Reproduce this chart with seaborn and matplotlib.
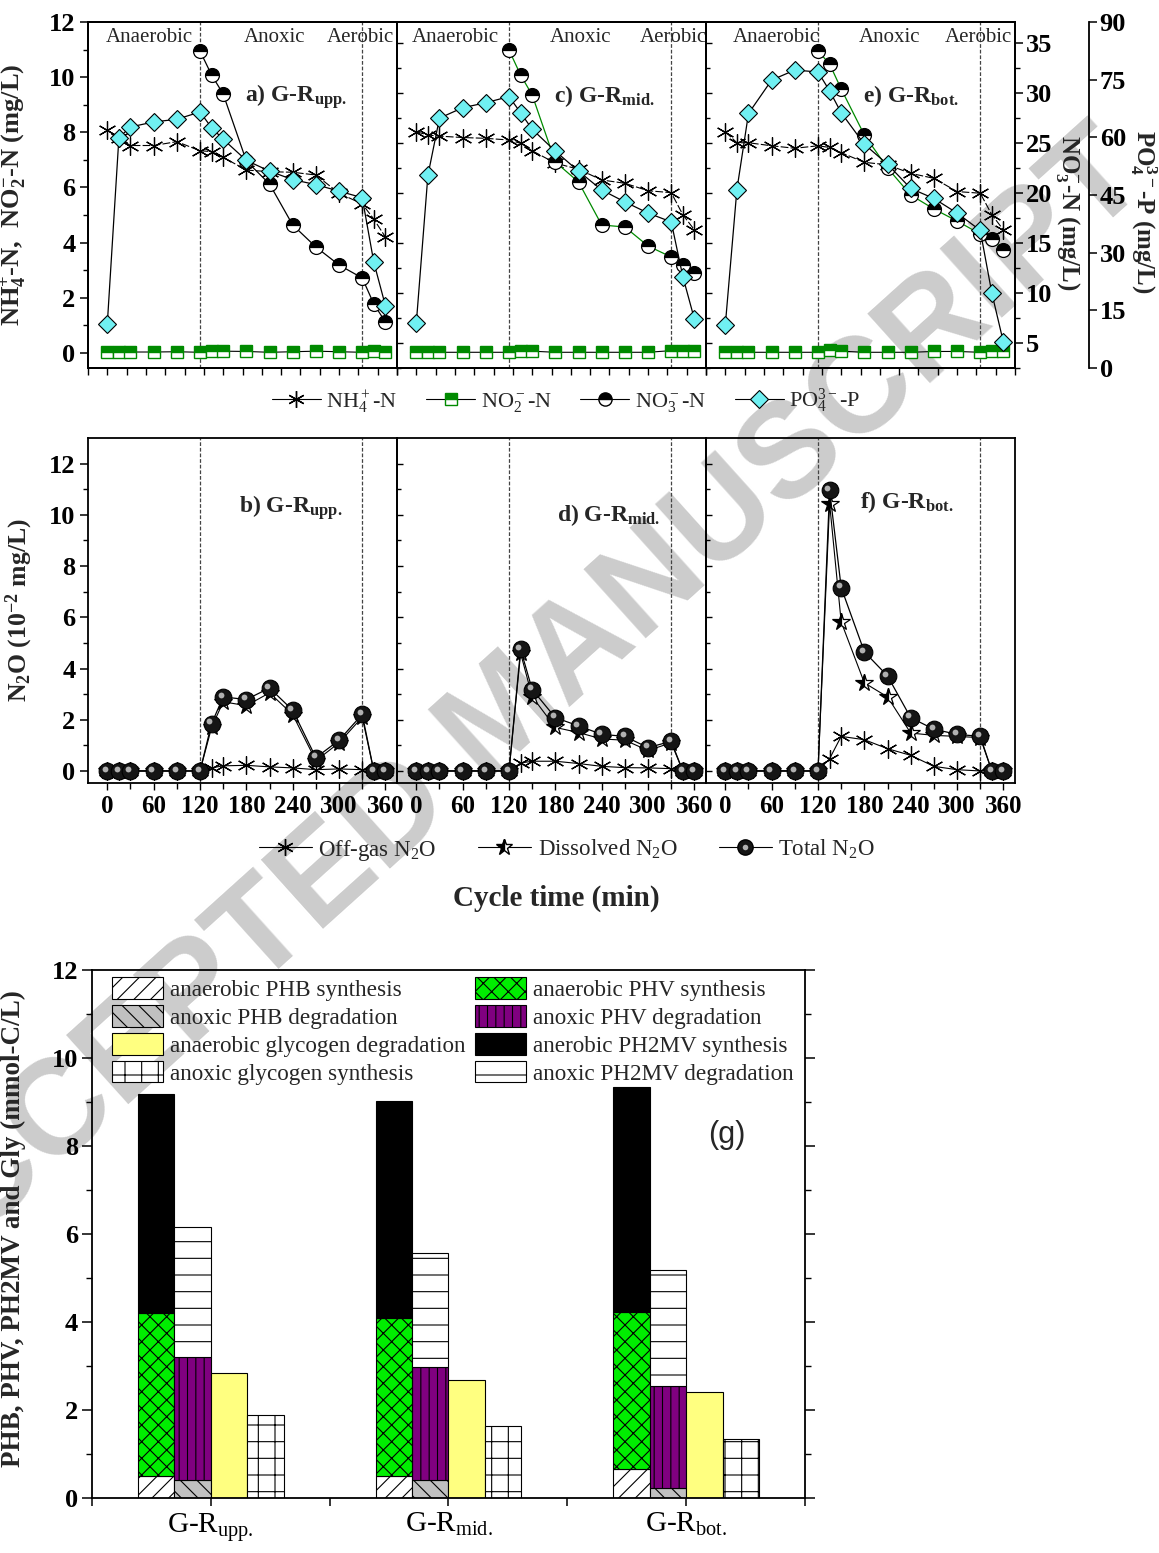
import numpy as np
import pandas as pd
import matplotlib
matplotlib.use("Agg")
import matplotlib.pyplot as plt
import matplotlib.transforms as mtransforms
from matplotlib.lines import Line2D
from matplotlib.patches import Patch
from matplotlib.legend_handler import HandlerTuple
import seaborn as sns

# ---------------- data ----------------
time = [0, 15, 30, 60, 90, 120, 135, 150, 180, 210, 240, 270, 300, 330, 345, 360]
time_anox = [120, 135, 150, 180, 210, 240, 270, 300, 330, 345, 360]
reactors = ["upp.", "mid.", "bot."]
top_letters = ["a)", "c)", "e)"]
mid_letters = ["b)", "d)", "f)"]

nh4_upp = [8.08, 7.78, 7.52, 7.52, 7.66, 7.33, 7.30, 7.09, 6.63, 6.57, 6.55, 6.45, 5.79, 5.40, 4.85, 4.20]
nh4_mid = [8.02, 7.90, 7.86, 7.81, 7.78, 7.72, 7.60, 7.33, 6.88, 6.66, 6.27, 6.15, 5.88, 5.81, 5.01, 4.46]
nh4_bot = [8.02, 7.62, 7.62, 7.51, 7.42, 7.51, 7.45, 7.26, 6.91, 6.82, 6.51, 6.33, 5.85, 5.79, 5.01, 4.46]

no2_upp = [0.03, 0.03, 0.03, 0.03, 0.04, 0.02, 0.08, 0.06, 0.05, 0.02, 0.04, 0.06, 0.04, 0.02, 0.05, 0.03]
no2_mid = [0.02, 0.02, 0.02, 0.02, 0.02, 0.02, 0.08, 0.06, 0.02, 0.02, 0.02, 0.02, 0.02, 0.08, 0.06, 0.08]
no2_bot = [0.02, 0.02, 0.02, 0.02, 0.02, 0.02, 0.10, 0.06, 0.02, 0.02, 0.02, 0.05, 0.05, 0.02, 0.05, 0.05]

no3_upp = [34.2, 31.8, 29.9, 23.2, 20.9, 16.8, 14.6, 12.8, 11.5, 8.9, 7.1]
no3_mid = [34.3, 31.8, 29.8, 23.1, 21.1, 16.8, 16.6, 14.7, 13.6, 12.8, 12.0]
no3_bot = [34.2, 32.9, 30.4, 25.8, 22.5, 19.8, 18.4, 17.2, 15.9, 15.4, 14.3]

po4_upp = [11.5, 59.9, 62.7, 64.0, 64.7, 66.6, 62.5, 59.5, 54.0, 51.2, 49.0, 47.7, 46.0, 44.3, 27.5, 16.2]
po4_mid = [11.7, 50.1, 65.0, 67.7, 69.0, 70.6, 66.4, 62.1, 56.4, 51.2, 46.3, 43.2, 40.3, 38.0, 23.8, 12.7]
po4_bot = [11.2, 46.4, 66.2, 74.9, 77.5, 77.0, 72.1, 66.4, 58.2, 53.0, 46.7, 44.1, 40.3, 35.8, 19.5, 6.7]

offgas_upp = [0, 0, 0, 0, 0, 0, 0.12, 0.20, 0.22, 0.16, 0.12, 0.05, 0.08, 0.05, 0, 0]
offgas_mid = [0, 0, 0, 0, 0, 0, 0.31, 0.38, 0.38, 0.29, 0.18, 0.13, 0.12, 0.09, 0, 0]
offgas_bot = [0, 0, 0, 0, 0, 0, 0.48, 1.35, 1.22, 0.87, 0.61, 0.18, 0.05, 0.0, 0, 0]

dissolved_upp = [0, 0, 0, 0, 0, 0, 1.70, 2.70, 2.55, 3.05, 2.20, 0.40, 1.10, 2.10, 0, 0]
dissolved_mid = [0, 0, 0, 0, 0, 0, 4.60, 2.90, 1.70, 1.50, 1.25, 1.20, 0.80, 1.10, 0, 0]
dissolved_bot = [0, 0, 0, 0, 0, 0, 10.44, 5.82, 3.44, 2.89, 1.48, 1.39, 1.35, 1.30, 0, 0]

total_upp = [0, 0, 0, 0, 0, 0, 1.85, 2.89, 2.79, 3.24, 2.37, 0.52, 1.20, 2.21, 0, 0]
total_mid = [0, 0, 0, 0, 0, 0, 4.75, 3.18, 2.08, 1.76, 1.43, 1.35, 0.91, 1.16, 0, 0]
total_bot = [0, 0, 0, 0, 0, 0, 10.96, 7.16, 4.65, 3.71, 2.08, 1.63, 1.43, 1.35, 0, 0]

# bar chart (segment values, mmol-C/L)
bar_groups = ["G-R$_{\\mathregular{upp.}}$", "G-R$_{\\mathregular{mid.}}$", "G-R$_{\\mathregular{bot.}}$"]
phb_syn = [0.49, 0.50, 0.65]
phv_syn = [3.71, 3.60, 3.57]
ph2mv_syn = [4.99, 4.92, 5.13]
phb_deg = [0.41, 0.40, 0.22]
phv_deg = [2.80, 2.58, 2.32]
ph2mv_deg = [2.94, 2.58, 2.64]
gly_deg = [2.85, 2.69, 2.41]
gly_syn = [1.89, 1.63, 1.33]

# ---------------- style ----------------
sns.set_theme(style="ticks")
plt.rcParams["font.family"] = ["Liberation Serif", "DejaVu Serif"]
plt.rcParams["mathtext.fontset"] = "custom"
plt.rcParams["mathtext.rm"] = "Liberation Serif"
plt.rcParams["mathtext.it"] = "Liberation Serif:italic"
plt.rcParams["mathtext.bf"] = "Liberation Serif:bold"
plt.rcParams["axes.linewidth"] = 1.3
plt.rcParams["axes.edgecolor"] = "black"
plt.rcParams["hatch.linewidth"] = 0.8
plt.rcParams["xtick.color"] = "black"
plt.rcParams["ytick.color"] = "black"

W, H = 1159, 1553
fig = plt.figure(figsize=(W / 100, H / 100), dpi=100)
fig.patch.set_facecolor("white")


def fr(x0, x1, ytop, ybot):
    return [x0 / W, 1 - ybot / H, (x1 - x0) / W, (ybot - ytop) / H]


xs = [88, 397, 706, 1015]
CYAN = "#70f0f2"
GREEN = "#008a00"
VL = dict(color="#444444", lw=0.9, ls=(0, (3, 1.5)), zorder=1)


def bold_ticks(ax, which="both"):
    if which in ("both", "x"):
        for t in ax.get_xticklabels():
            t.set_fontweight("bold")
    if which in ("both", "y"):
        for t in ax.get_yticklabels():
            t.set_fontweight("bold")


# watermark (behind axes)
fig.text(505 / W, 1 - 718 / H, "ACCEPTED MANUSCRIPT", rotation=42, fontsize=97,
         color="#cccccc", family="Liberation Sans", weight="bold",
         ha="center", va="center", zorder=-5, rotation_mode="anchor")

nh4_all = [nh4_upp, nh4_mid, nh4_bot]
no2_all = [no2_upp, no2_mid, no2_bot]
no3_all = [no3_upp, no3_mid, no3_bot]
po4_all = [po4_upp, po4_mid, po4_bot]
phase_x = [[54, 217, 328], [51, 213, 333], [66, 213, 328]]
no3_line_colors = ["black", GREEN, GREEN]

# ---------------- top panels ----------------
for i in range(3):
    ax = fig.add_axes(fr(xs[i], xs[i + 1], 22, 368))
    ax.set_facecolor("none")
    tw = ax.twinx()
    tp = ax.twinx()
    for a in (tw, tp):
        a.set_facecolor("none")

    sns.lineplot(x=time, y=nh4_all[i], ax=ax, color="black", lw=0.8, ls=(0, (7, 2)),
                 marker=(6, 2, 0), markersize=13, markeredgecolor="black",
                 markeredgewidth=0.9, estimator=None, errorbar=None, zorder=3)
    sns.lineplot(x=time, y=no2_all[i], ax=ax, color="black", lw=0.8,
                 marker="s", markersize=8.5, fillstyle="top", markerfacecolor=GREEN,
                 markerfacecoloralt="white", markeredgecolor=GREEN, markeredgewidth=1.0,
                 estimator=None, errorbar=None, zorder=3)
    sns.lineplot(x=time_anox, y=no3_all[i], ax=tw, color=no3_line_colors[i], lw=0.9,
                 marker="o", markersize=10, fillstyle="top", markerfacecolor="black",
                 markerfacecoloralt="white", markeredgecolor="black", markeredgewidth=0.9,
                 estimator=None, errorbar=None, zorder=3)
    sns.lineplot(x=time, y=po4_all[i], ax=tp, color="black", lw=0.9,
                 marker="D", markersize=9.5, markerfacecolor=CYAN,
                 markeredgecolor="black", markeredgewidth=0.8,
                 estimator=None, errorbar=None, zorder=3)

    for a in (ax, tw, tp):
        a.set_xlabel("")
        a.set_ylabel("")
        a.set_xlim(-25, 375)
    ax.set_ylim(-0.55, 12)
    tw.set_ylim(2.5, 37.1)
    tp.set_ylim(0, 90)
    ax.axvline(120, **VL)
    ax.axvline(330, **VL)

    ax.set_xticks(np.arange(-25, 376, 25))
    ax.tick_params(axis="x", direction="out", length=5, width=1, labelbottom=False)
    ax.set_yticks(np.arange(0, 13, 2))
    ax.set_yticks(np.arange(1, 12, 2), minor=True)

    tw.set_yticks(np.arange(5, 36, 5))
    tw.set_yticks(np.arange(2.5, 37.1, 5), minor=True)
    if i == 0:
        ax.tick_params(axis="y", which="major", direction="out", length=6, width=1.1,
                       labelsize=19, pad=3)
        ax.tick_params(axis="y", which="minor", direction="out", length=3.5, width=1)
        bold_ticks(ax, "y")
        ax.set_ylabel("NH$_\\mathbf{4}^\\mathbf{+}$-N,  NO$_\\mathbf{2}^\\mathbf{-}$-N (mg/L)",
                      fontsize=19, fontweight="bold")
        ax.yaxis.set_label_coords((28 - 88) / 309, 0.5)
    else:
        ax.tick_params(axis="y", which="both", length=0, labelleft=False)

    if i == 2:
        tw.tick_params(axis="y", which="major", direction="out", length=6, width=1.1,
                       labelsize=19, pad=2)
        tw.tick_params(axis="y", which="minor", direction="out", length=3.5, width=1)
        bold_ticks(tw, "y")
        tp.spines["right"].set_position(("outward", 53))
        tp.set_yticks(np.arange(0, 91, 15))
        tp.tick_params(axis="y", which="major", direction="out", length=6, width=1.1,
                       labelsize=19, pad=2)
        bold_ticks(tp, "y")
        ax.text(1.17, 0.45, "NO$_\\mathbf{3}^\\mathbf{-}$-N (mg/L)", transform=ax.transAxes,
                rotation=270, fontsize=18, fontweight="bold", ha="center", va="center")
        ax.text(1.415, 0.45, "PO$_\\mathbf{4}^\\mathbf{3-}$-P (mg/L)", transform=ax.transAxes,
                rotation=270, fontsize=18, fontweight="bold", ha="center", va="center")
    else:
        tw.tick_params(axis="y", which="major", direction="out", length=4, width=1,
                       labelright=False)
        tw.tick_params(axis="y", which="minor", direction="out", length=3, width=1)
        tp.tick_params(axis="y", which="both", length=0, labelright=False)
        tp.spines["right"].set_visible(False)

    for label, xp in zip(["Anaerobic", "Anoxic", "Aerobic"], phase_x[i]):
        ax.text(xp, 11.42, label, fontsize=15, ha="center", va="center")
    ax.text(178, 9.3, top_letters[i] + " G-R$_\\mathbf{" + reactors[i] + "}$",
            fontsize=17, fontweight="bold", ha="left", va="center")

# legend for top row
lg1_handles = [
    Line2D([], [], color="black", lw=0.8, marker=(6, 2, 0), markersize=12, markeredgecolor="black"),
    Line2D([], [], color="black", lw=0.8, marker="s", markersize=8, fillstyle="top",
           markerfacecolor=GREEN, markerfacecoloralt="white", markeredgecolor=GREEN),
    Line2D([], [], color="black", lw=0.8, marker="o", markersize=9.5, fillstyle="top",
           markerfacecolor="black", markerfacecoloralt="white", markeredgecolor="black"),
    Line2D([], [], color="black", lw=0.8, marker="D", markersize=9, markerfacecolor=CYAN,
           markeredgecolor="black", markeredgewidth=0.8),
]
fig.legend(lg1_handles, ["NH$_4^+$-N", "NO$_2^-$-N", "NO$_3^-$-N", "PO$_4^{3-}$-P"],
           loc="center", bbox_to_anchor=(566 / W, 1 - 401 / H), ncol=4, frameon=False,
           fontsize=16, handlelength=2.2, columnspacing=1.3, handletextpad=0.25)

# ---------------- middle panels ----------------
offgas_all = [offgas_upp, offgas_mid, offgas_bot]
dissolved_all = [dissolved_upp, dissolved_mid, dissolved_bot]
total_all = [total_upp, total_mid, total_bot]
mid_label_pos = [(170, 10.3), (182, 10.0), (174, 10.5)]

for i in range(3):
    ax = fig.add_axes(fr(xs[i], xs[i + 1], 438, 783))
    ax.set_facecolor("none")
    sns.lineplot(x=time, y=offgas_all[i], ax=ax, color="black", lw=0.8,
                 marker=(6, 2, 0), markersize=13, markeredgecolor="black", markeredgewidth=0.9,
                 estimator=None, errorbar=None, zorder=3)
    sns.lineplot(x=time, y=dissolved_all[i], ax=ax, color="black", lw=0.8,
                 marker="*", markersize=13, fillstyle="left", markerfacecolor="black",
                 markerfacecoloralt="white", markeredgecolor="black", markeredgewidth=0.9,
                 estimator=None, errorbar=None, zorder=4)
    sns.lineplot(x=time, y=total_all[i], ax=ax, color="black", lw=0.9,
                 marker="o", markersize=12, markerfacecolor="#151515",
                 markeredgecolor="black", markeredgewidth=0.8,
                 estimator=None, errorbar=None, zorder=5)
    shift = mtransforms.ScaledTranslation(-1.6 / 72, 1.6 / 72, fig.dpi_scale_trans)
    ax.plot(time, total_all[i], ls="none", marker="o", markersize=4.2, color="#b0b0b0",
            markeredgewidth=0, transform=ax.transData + shift, zorder=6)
    ax.set_xlabel("")
    ax.set_ylabel("")
    ax.set_xlim(-25, 375)
    ax.set_ylim(-0.47, 13)
    ax.axvline(120, **VL)
    ax.axvline(330, **VL)
    ax.set_xticks(np.arange(0, 361, 60))
    ax.set_xticks(np.arange(30, 361, 60), minor=True)
    ax.tick_params(axis="x", which="major", direction="out", length=5, width=1,
                   labelsize=18, pad=4)
    ax.tick_params(axis="x", which="minor", direction="out", length=4, width=1)
    bold_ticks(ax, "x")
    ax.set_yticks(np.arange(0, 13, 2))
    ax.set_yticks(np.arange(1, 13, 2), minor=True)
    if i == 0:
        ax.tick_params(axis="y", which="major", direction="out", length=6, width=1.1,
                       labelsize=19, pad=3)
        ax.tick_params(axis="y", which="minor", direction="out", length=3.5, width=1)
        bold_ticks(ax, "y")
        ax.set_ylabel("N$_\\mathbf{2}$O (10$^\\mathbf{-2}$ mg/L)", fontsize=18.5, fontweight="bold")
        ax.yaxis.set_label_coords((35 - 88) / 309, 0.5)
    else:
        ax.tick_params(axis="y", which="major", direction="in", length=4, width=1, labelleft=False)
        ax.tick_params(axis="y", which="minor", direction="in", length=3, width=1)
    lx, ly = mid_label_pos[i]
    ax.text(lx, ly, mid_letters[i] + " G-R$_\\mathbf{" + reactors[i] + "}$",
            fontsize=17, fontweight="bold", ha="left", va="center")

lg2_handles = [
    Line2D([], [], color="black", lw=0.8, marker=(6, 2, 0), markersize=12, markeredgecolor="black"),
    Line2D([], [], color="black", lw=0.8, marker="*", markersize=12, fillstyle="left",
           markerfacecolor="black", markerfacecoloralt="white", markeredgecolor="black"),
    (Line2D([], [], color="black", lw=0.8, marker="o", markersize=11, markerfacecolor="#151515",
            markeredgecolor="black"),
     Line2D([], [], ls="none", marker="o", markersize=4, color="#b0b0b0", markeredgewidth=0)),
]
fig.legend(lg2_handles, ["Off-gas N$_2$O", "Dissolved N$_2$O", "Total N$_2$O"],
           handler_map={tuple: HandlerTuple(ndivide=1)},
           loc="center", bbox_to_anchor=(567 / W, 1 - 850 / H), ncol=3, frameon=False,
           fontsize=16.5, handlelength=2.3, columnspacing=1.8, handletextpad=0.3)

fig.text(556 / W, 1 - 898 / H, "Cycle time (min)", fontsize=21, fontweight="bold",
         ha="center", va="center")

# ---------------- bar chart ----------------
axg = fig.add_axes(fr(92, 805, 970, 1498))
axg.set_facecolor("none")
xpos = np.arange(1, 4)
bw = 0.153
off = [-1.5 * bw, -0.5 * bw, 0.5 * bw, 1.5 * bw]
ekw = dict(edgecolor="black", linewidth=0.8)
b1 = axg.bar(xpos + off[0], phb_syn, bw, color="white", hatch="//", **ekw)
b5 = axg.bar(xpos + off[0], phv_syn, bw, bottom=phb_syn, color="#00ee00", hatch="xx", **ekw)
b7 = axg.bar(xpos + off[0], ph2mv_syn, bw, bottom=np.add(phb_syn, phv_syn), color="black", **ekw)
b2 = axg.bar(xpos + off[1], phb_deg, bw, color="#c0c0c0", hatch="\\\\", **ekw)
b6 = axg.bar(xpos + off[1], phv_deg, bw, bottom=phb_deg, color="#800080", hatch="||", **ekw)
b8 = axg.bar(xpos + off[1], ph2mv_deg, bw, bottom=np.add(phb_deg, phv_deg), color="white", hatch="-", **ekw)
b3 = axg.bar(xpos + off[2], gly_deg, bw, color="#ffff80", **ekw)
b4 = axg.bar(xpos + off[3], gly_syn, bw, color="white", hatch="+", **ekw)

axg.set_xlim(0.5, 3.5)
axg.set_ylim(0, 12)
axg.set_xticks(np.arange(0.5, 3.51, 0.5))
axg.set_xticklabels(["", bar_groups[0], "", bar_groups[1], "", bar_groups[2], ""])
axg.tick_params(axis="x", direction="out", length=6, width=1.1, labelsize=21, pad=3)
axg.set_yticks(np.arange(0, 13, 2))
axg.set_yticks(np.arange(1, 12, 2), minor=True)
axg.tick_params(axis="y", which="major", direction="out", length=7, width=1.1, labelsize=19, pad=3)
axg.tick_params(axis="y", which="minor", direction="out", length=4, width=1)
axg.tick_params(axis="y", which="both", right=True)
bold_ticks(axg, "y")
axg.set_ylabel("PHB, PHV, PH2MV and Gly (mmol-C/L)", fontsize=19.5, fontweight="bold")
axg.yaxis.set_label_coords((26 - 92) / 713, 0.51)
axg.text(3.17, 8.25, "(g)", fontsize=22, family="Liberation Sans", ha="center", va="center")

leg_handles = [b1[0], b2[0], b3[0], b4[0], b5[0], b6[0], b7[0], b8[0]]
leg_labels = ["anaerobic PHB synthesis", "anoxic PHB degradation",
              "anaerobic glycogen degradation", "anoxic glycogen synthesis",
              "anaerobic PHV synthesis", "anoxic PHV degradation",
              "anerobic PH2MV synthesis", "anoxic PH2MV degradation"]
axg.legend(leg_handles, leg_labels, loc="upper left", bbox_to_anchor=(0.028, 0.986),
           ncol=2, frameon=False, fontsize=16.7, handlelength=2.2, handleheight=1.05,
           labelspacing=0.18, handletextpad=0.3, columnspacing=0.43,
           borderaxespad=0, borderpad=0)

fig.savefig("out.png", dpi=100)
